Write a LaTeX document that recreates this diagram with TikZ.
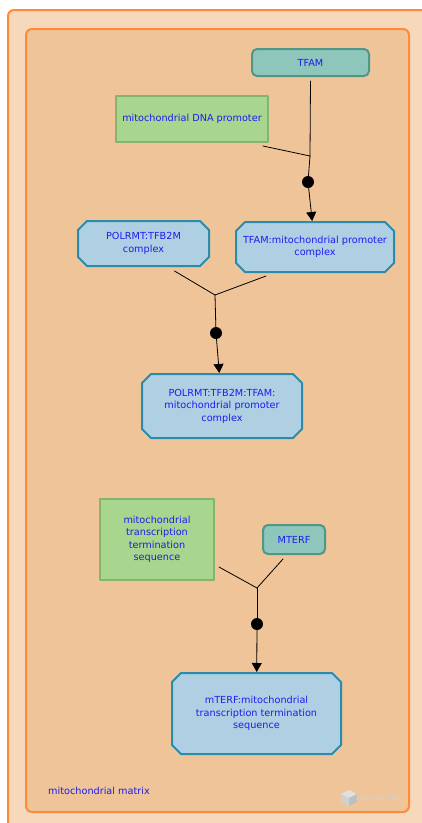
\documentclass[tikz,border=0pt]{standalone}
\usepackage{fontspec}
\setsansfont{DejaVu Sans}
\usepackage{tikz}
\usetikzlibrary{arrows.meta,positioning,shapes.misc}
\definecolor{rxouter}{HTML}{F5D9BA}
\definecolor{rxinner}{HTML}{EEC498}
\definecolor{rxedge}{HTML}{FF8A3A}
\definecolor{rxprot}{HTML}{8EC6BC}
\definecolor{rxprotedge}{HTML}{4F9887}
\definecolor{rxseq}{HTML}{A8D68E}
\definecolor{rxseqedge}{HTML}{84B46E}
\definecolor{rxcplx}{HTML}{AED0E2}
\definecolor{rxcplxedge}{HTML}{2A8CAA}
\definecolor{rxtext}{HTML}{1C1CF2}
\tikzset{
  >={Triangle[length=9pt,width=10pt]},
  every picture/.style={line cap=round, line join=round},
  lbl/.style={font=\sffamily\fontsize{9.7}{12.5}\selectfont, text=rxtext, align=center},
  protein/.style={lbl, draw=rxprotedge, fill=rxprot, line width=2pt,
    rounded corners=5pt, inner sep=0pt},
  seqbox/.style={lbl, draw=rxseqedge, fill=rxseq, line width=2pt, inner sep=0pt},
  cplx/.style={lbl, chamfered rectangle, chamfered rectangle sep=4.5pt,
    draw=rxcplxedge, fill=rxcplx, line width=2pt, inner sep=0pt},
  link/.style={black, line width=0.8pt},
  rxndot/.style={circle, fill=black, inner sep=0pt, minimum size=12pt},
}

\begin{document}
\begin{tikzpicture}[x=1pt, y=-1pt]
\useasboundingbox (0,0) rectangle (422,823);
% ------------------------------------------------------------- compartments
\begin{scope}
\clip (0,0) rectangle (422,823);
\draw[rxedge, fill=rxouter, line width=2pt, rounded corners=6pt] (8,10) rectangle (440,840);
\end{scope}
\draw[rxedge, fill=rxinner, line width=2pt, rounded corners=6pt] (26,29) rectangle (409,812);
\node[lbl, anchor=west, inner sep=0pt] (matrix) at (48,791) {mitochondrial matrix};
\fill[black!12] (341,794) -- (349,790) -- (357,794) -- (349,798) -- cycle;
\fill[black!18] (341,794) -- (349,798) -- (349,806) -- (341,802) -- cycle;
\fill[black!25] (357,794) -- (349,798) -- (349,806) -- (357,802) -- cycle;
\node[font=\sffamily\fontsize{9}{10}\selectfont, text=black!18, anchor=west, inner sep=0pt]
  (logo) at (356,797) {reactome};

% ------------------------------------------------------------- entities
\node[protein, minimum width=117pt, minimum height=27pt] (tfam) at (310.5,62.5) {TFAM};
\node[seqbox, minimum width=152pt, minimum height=46pt] (promoter) at (192,119)
  {mitochondrial DNA promoter};
\node[cplx, minimum width=158pt, minimum height=50pt] (tfampro) at (315,247)
  {TFAM:mitochondrial promoter\\complex};
\node[cplx, minimum width=131pt, minimum height=45pt] (polrmt) at (143.5,243.5)
  {POLRMT:TFB2M\\complex};
\node[cplx, minimum width=160pt, minimum height=64pt] (holo) at (222,406)
  {POLRMT:TFB2M:TFAM:\\mitochondrial promoter\\complex};
\node[seqbox, minimum width=114pt, minimum height=81pt] (termseq) at (157,539.5)
  {mitochondrial\\transcription\\termination\\sequence};
\node[protein, minimum width=62pt, minimum height=29pt] (mterf) at (294,539.5) {MTERF};
\node[cplx, minimum width=169pt, minimum height=81pt] (mterfcplx) at (256.5,713.5)
  {mTERF:mitochondrial\\transcription termination\\sequence};

% ------------------------------------------------------------- reactions
\coordinate (j1) at (310,156);
\node[rxndot] (d1) at (308,182) {};
\draw[link] ([yshift=-4pt]tfam.south) -- (j1);
\draw[link] ([shift={(-6pt,-3pt)}]promoter.south east) -- (j1);
\draw[link] (j1) -- (d1);
\draw[link, ->] (d1) -- (tfampro);

\coordinate (j2) at (215,295);
\node[rxndot] (d2) at (216,333) {};
\draw[link] ([shift={(31pt,-4pt)}]polrmt.south) -- (j2);
\draw[link] ([shift={(-49pt,-3pt)}]tfampro.south) -- (j2);
\draw[link] (j2) -- (d2);
\draw[link, ->] (d2) -- (holo);

\coordinate (j3) at (257,588);
\node[rxndot] (d3) at (257,624) {};
\draw[link] ([shift={(4pt,-27.5pt)}]termseq.east) -- (j3);
\draw[link] ([shift={(-11pt,-4pt)}]mterf.south) -- (j3);
\draw[link] (j3) -- (d3);
\draw[link, ->] (d3) -- (mterfcplx);
\end{tikzpicture}
\end{document}
